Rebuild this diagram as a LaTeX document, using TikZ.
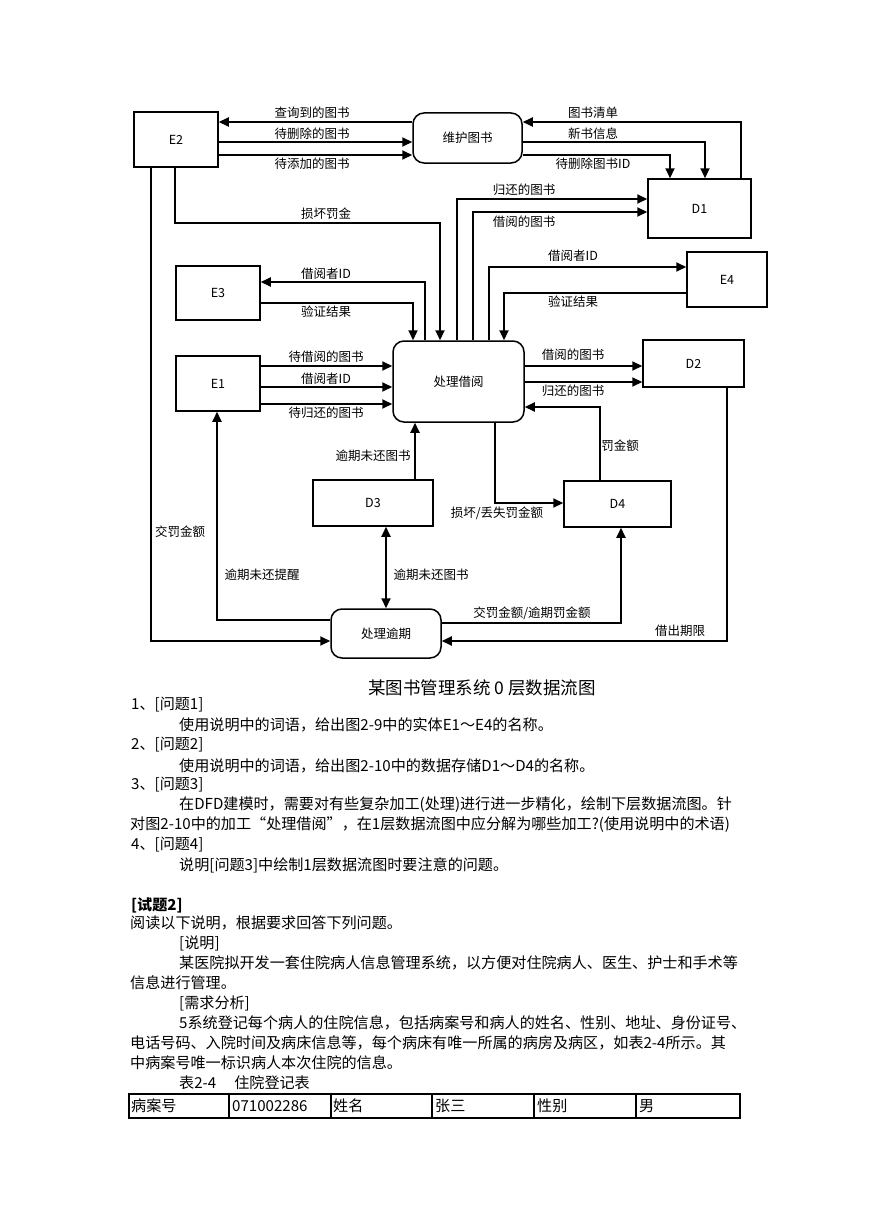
\documentclass[tikz,border=0pt]{standalone}
\usepackage{fontspec}
\setmainfont{Noto Sans CJK SC}
\usetikzlibrary{arrows.meta}
\tikzset{
  box/.style={draw, line width=1.5pt, inner sep=0pt, font=\fontsize{12.5}{14}\selectfont},
  proc/.style={box, rounded corners=11pt},
  flow/.style={line width=2pt, -{Triangle[length=10pt,width=9pt]}},
  flowboth/.style={line width=2pt, {Triangle[length=10pt,width=9pt]}-{Triangle[length=10pt,width=9pt]}},
  lbl/.style={font=\fontsize{12.5}{14}\selectfont, inner sep=0pt},
  body/.style={font=\fontsize{15.1}{18}\selectfont, inner sep=0pt, anchor=west},
  cell/.style={font=\fontsize{15.1}{18}\selectfont, inner sep=0pt, anchor=west},
}
\begin{document}
\begin{tikzpicture}[x=1pt,y=-1pt]
\useasboundingbox[fill=white] (0,0) rectangle (869,1228);

% ---------- nodes ----------
\node[box, minimum width=84pt, minimum height=55pt] (e2) at (176,139.5) {E2};
\node[proc, minimum width=109pt, minimum height=50pt] (wh) at (467.5,138) {维护图书};
\node[box, minimum width=103pt, minimum height=59pt] (d1) at (699.5,208.5) {D1};
\node[box, minimum width=84pt, minimum height=54pt] (e3) at (218,293) {E3};
\node[box, minimum width=80pt, minimum height=55pt] (e4) at (727,279.5) {E4};
\node[proc, minimum width=131pt, minimum height=81pt] (cj) at (458.5,381.5) {处理借阅};
\node[box, minimum width=84pt, minimum height=55pt] (e1) at (218,383.5) {E1};
\node[box, minimum width=101pt, minimum height=47pt] (d2) at (693.5,363.5) {D2};
\node[box, minimum width=120pt, minimum height=46pt] (d3) at (373,503) {D3};
\node[box, minimum width=107pt, minimum height=46pt] (d4) at (617.5,504) {D4};
\node[proc, minimum width=110pt, minimum height=49pt] (cy) at (386,633.5) {处理逾期};

% ---------- flows: 维护图书 ----------
\draw[flow] (wh.west |- 0,122) -- (e2.east |- 0,122);
\node[lbl] (l1) at (312,113) {查询到的图书};
\draw[flow] (e2.east |- 0,142) -- (wh.west |- 0,142);
\node[lbl] (l2) at (312,134) {待删除的图书};
\draw[flow] (e2.east |- 0,155) -- (wh.west |- 0,155);
\node[lbl] (l3) at (312,164) {待添加的图书};
\draw[flow] (741,0 |- d1.north) -- (741,122) -- (wh.east |- 0,122);
\node[lbl] (l4) at (593,113) {图书清单};
\draw[flow] (wh.east |- 0,142) -- (705,142) -- (705,0 |- d1.north);
\node[lbl] (l5) at (593,134) {新书信息};
\draw[flow] (wh.east |- 0,155) -- (670,155) -- (670,0 |- d1.north);
\node[lbl] (l6) at (593,164) {待删除图书ID};

% ---------- flows: 处理借阅 top ----------
\draw[flow] (457,0 |- cj.north) -- (457,199) -- (d1.west |- 0,199);
\node[lbl] (l7) at (524,190) {归还的图书};
\draw[flow] (473,0 |- cj.north) -- (473,212) -- (d1.west |- 0,212);
\node[lbl] (l8) at (524,222) {借阅的图书};
\draw[flow] (175,0 |- e2.south) -- (175,223) -- (440,223) -- (440,0 |- cj.north);
\node[lbl] (l9) at (326,214) {损坏罚金};
\draw[flow] (425,0 |- cj.north) -- (425,282) -- (e3.east |- 0,282);
\node[lbl] (l10) at (326,274) {借阅者ID};
\draw[flow] (e3.east |- 0,303) -- (413,303) -- (413,0 |- cj.north);
\node[lbl] (l11) at (326,312) {验证结果};
\draw[flow] (489,0 |- cj.north) -- (489,267) -- (e4.west |- 0,267);
\node[lbl] (l12) at (573,256) {借阅者ID};
\draw[flow] (e4.west |- 0,293) -- (504,293) -- (504,0 |- cj.north);
\node[lbl] (l13) at (573,302) {验证结果};

% ---------- flows: E1 / D2 ----------
\draw[flow] (e1.east |- 0,366) -- (cj.west |- 0,366);
\node[lbl] (l14) at (326,357) {待借阅的图书};
\draw[flow] (e1.east |- 0,387) -- (cj.west |- 0,387);
\node[lbl] (l15) at (326,379) {借阅者ID};
\draw[flow] (e1.east |- 0,404) -- (cj.west |- 0,404);
\node[lbl] (l16) at (326,413) {待归还的图书};
\draw[flow] (cj.east |- 0,366) -- (d2.west |- 0,366);
\node[lbl] (l17) at (573,355) {借阅的图书};
\draw[flow] (cj.east |- 0,382) -- (d2.west |- 0,382);
\node[lbl] (l18) at (573,391) {归还的图书};

% ---------- flows: lower part ----------
\draw[flow] (600,0 |- d4.north) -- (600,407) -- (cj.east |- 0,407);
\node[lbl] (l19) at (620,446) {罚金额};
\draw[flow] (495,0 |- cj.south) -- (495,503) -- (d4.west |- 0,503);
\node[lbl] (l20) at (497,513) {损坏/丢失罚金额};
\draw[flow] (415,0 |- d3.north) -- (415,0 |- cj.south);
\node[lbl] (l21) at (373,456) {逾期未还图书};
\draw[flowboth] (386,0 |- d3.south) -- (386,0 |- cy.north);
\node[lbl] (l22) at (431,575) {逾期未还图书};
\draw[flow] (151,0 |- e2.south) -- (151,641) -- (cy.west |- 0,641);
\node[lbl] (l23) at (180,532) {交罚金额};
\draw[flow] (cy.west |- 0,620) -- (217,620) -- (217,0 |- e1.south);
\node[lbl] (l24) at (262,575) {逾期未还提醒};
\draw[flow] (cy.east |- 0,623) -- (621,623) -- (621,0 |- d4.south);
\node[lbl] (l25) at (532,613) {交罚金额/逾期罚金额};
\draw[flow] (727,0 |- d2.south) -- (727,641) -- (cy.east |- 0,641);
\node[lbl] (l26) at (680,631) {借出期限};

% ---------- caption ----------
\node[font=\fontsize{17.5}{20}\selectfont, inner sep=0pt] (cap) at (482,688) {某图书管理系统 0 层数据流图};

% ---------- questions ----------
\node[body] (t1) at (131,705) {1、[问题1]};
\node[body] (t2) at (179,725) {使用说明中的词语，给出图2-9中的实体E1～E4的名称。};
\node[body] (t3) at (131,745) {2、[问题2]};
\node[body] (t4) at (179,766) {使用说明中的词语，给出图2-10中的数据存储D1～D4的名称。};
\node[body] (t5) at (131,785) {3、[问题3]};
\node[body] (t6) at (179,805) {在DFD建模时，需要对有些复杂加工(处理)进行进一步精化，绘制下层数据流图。针};
\node[body] (t7) at (130,825) {对图2-10中的加工“处理借阅”，在1层数据流图中应分解为哪些加工?(使用说明中的术语)};
\node[body] (t8) at (131,845) {4、[问题4]};
\node[body] (t9) at (179,865) {说明[问题3]中绘制1层数据流图时要注意的问题。};

\node[body, font=\fontsize{15.1}{18}\selectfont\bfseries] (s1) at (131,905) {[试题2]};
\node[body] (s2) at (130,923) {阅读以下说明，根据要求回答下列问题。};
\node[body] (s3) at (179,943) {[说明]};
\node[body] (s4) at (179,963) {某医院拟开发一套住院病人信息管理系统，以方便对住院病人、医生、护士和手术等};
\node[body] (s5) at (130,983) {信息进行管理。};
\node[body] (s6) at (179,1003) {[需求分析]};
\node[body] (s7) at (179,1023) {5系统登记每个病人的住院信息，包括病案号和病人的姓名、性别、地址、身份证号、};
\node[body] (s8) at (130,1043) {电话号码、入院时间及病床信息等，每个病床有唯一所属的病房及病区，如表2-4所示。其};
\node[body] (s9) at (130,1063) {中病案号唯一标识病人本次住院的信息。};
\node[body] (s10) at (179,1083) {表2-4\hspace{18pt}住院登记表};

% ---------- table ----------
\draw[line width=1.2pt] (129,1094) rectangle (740,1118);
\foreach \cx in {229,331,432,534,636} \draw[line width=1.2pt] (\cx,1094) -- (\cx,1118);
\node[cell] (c1) at (131,1106) {病案号};
\node[cell] (c2) at (232,1106) {071002286};
\node[cell] (c3) at (333,1106) {姓名};
\node[cell] (c4) at (435,1106) {张三};
\node[cell] (c5) at (537,1106) {性别};
\node[cell] (c6) at (639,1106) {男};
\end{tikzpicture}
\end{document}
